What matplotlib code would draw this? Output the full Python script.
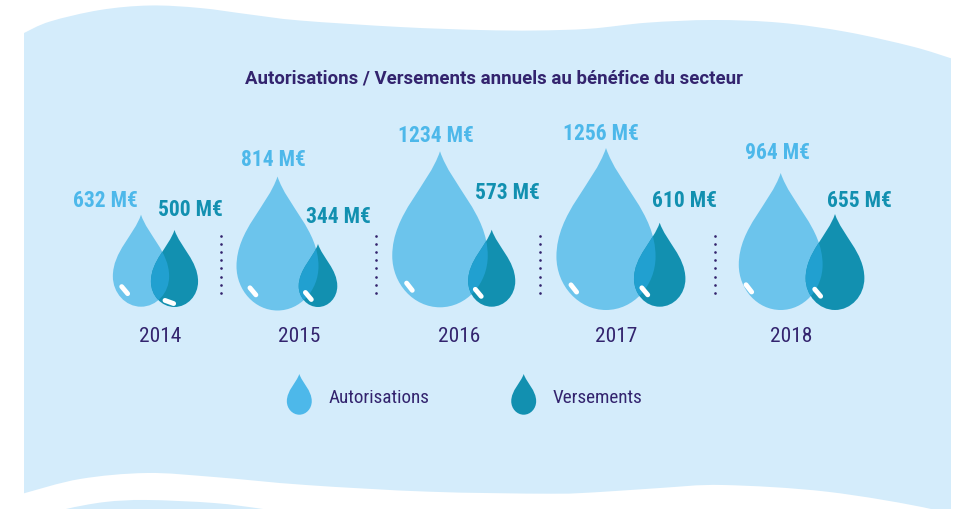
import numpy as np
import matplotlib
matplotlib.use('Agg')
import matplotlib.pyplot as plt
from matplotlib.path import Path
from matplotlib.patches import PathPatch

# ---- data ----
years = ['2014', '2015', '2016', '2017', '2018']
autorisations = [632, 814, 1234, 1256, 964]
versements = [500, 344, 573, 610, 655]
title = 'Autorisations / Versements annuels au bénéfice du secteur'
legend_labels = ['Autorisations', 'Versements']

# ---- layout (pixels) ----
W, H = 956, 509
K = 4.3
ASPECT = 0.612
light_adj = [0.851, 1.092, 1.033, 1.063, 1.026]
dark_adj = [0.801, 0.790, 0.748, 0.791, 0.872]
light_x = [141, 277.5, 440, 606, 780.7]
dark_x = [174.5, 318, 491.7, 659.7, 835]
light_base = [306.7, 310.5, 307.3, 310, 310]
dark_base = [307, 307, 306.7, 306.7, 310]
light_hl = [(-0.58, 0.18, -50), (-0.6, 0.143, -50), (-0.64, 0.132, -52), (-0.65, 0.133, -52), (-0.76, 0.158, -52)]
dark_hl = [(-0.22, 0.065, -20), (-0.5, 0.175, -50), (-0.57, 0.18, -50), (-0.58, 0.183, -50), (-0.59, 0.18, -50)]
light_lab = [(105, 201), (273.5, 160), (435.5, 136), (601, 134), (777.5, 153)]
dark_lab = [(190, 210), (338.5, 217), (507, 193), (685, 201), (859.5, 201)]
year_x = [160, 299, 459.5, 616, 791]
sep_x = [220.7, 376.3, 539.7, 715]

BG = '#D4ECFB'
LIGHT = '#6CC4EC'
LIGHT_TXT = '#4DB8EA'
DARK = '#1290B0'
OVER = '#21A0D0'
INK = '#33246E'

top_edge = [(24, 33), (50, 21.5), (100, 10), (150, 5.5), (200, 8), (250, 14.5), (300, 20.5), (400, 27), (480, 30),
            (535, 30.5), (590, 28.7), (647, 22.7), (713, 20), (780, 22.7), (847, 32), (913, 46.7), (951, 58.3)]
bottom_edge = [(24, 493.3), (80, 479), (147, 473), (214, 477), (306, 485), (429, 491.7), (551, 493.7), (600, 492),
               (660, 488), (723, 485), (827, 491.7), (931, 509), (951, 520)]
lower_band = [(50, 515), (66, 509), (105, 502), (147, 500), (214, 503), (263, 509), (300, 515)]


def smooth(pts):
    """Catmull-Rom edge as Bezier vertices (excluding the first point)."""
    p = np.array(pts, float)
    verts, codes = [], []
    for i in range(len(p) - 1):
        p0 = p[max(i - 1, 0)]
        p1, p2 = p[i], p[i + 1]
        p3 = p[min(i + 2, len(p) - 1)]
        verts += [tuple(p1 + (p2 - p0) / 6), tuple(p2 - (p3 - p1) / 6), tuple(p2)]
        codes += [Path.CURVE4] * 3
    return verts, codes


def wave_patch(top, bottom=None, close_y=None, color=BG):
    v1, c1 = smooth(top)
    verts = [tuple(top[0])] + v1
    codes = [Path.MOVETO] + c1
    if bottom is not None:
        v2, c2 = smooth(bottom[::-1])
        verts += [tuple(bottom[-1])] + v2
        codes += [Path.LINETO] + c2
    else:
        verts += [(top[-1][0], close_y), (top[0][0], close_y)]
        codes += [Path.LINETO, Path.LINETO]
    verts.append(verts[0])
    codes.append(Path.CLOSEPOLY)
    return PathPatch(Path(verts, codes), fc=color, ec='none', lw=0)


def drop_path(tip_x, base_y, height):
    hw = height * ASPECT / 2
    unit = [(0, 1), (0.24, 0.78), (1, 0.60), (1, 0.33), (1, 0.15), (0.552, 0), (0, 0),
            (-0.552, 0), (-1, 0.15), (-1, 0.33), (-1, 0.60), (-0.24, 0.78), (0, 1), (0, 1)]
    verts = [(tip_x + u * hw, base_y - v * height) for u, v in unit]
    codes = [Path.MOVETO] + [Path.CURVE4] * 12 + [Path.CLOSEPOLY]
    return Path(verts, codes)


def highlight(ax, tip_x, base_y, height, spec):
    u, v, ang = spec
    cx = tip_x + u * height * ASPECT / 2
    cy = base_y - v * height
    a = np.deg2rad(ang)
    dx, dy = 4.6 * np.cos(a), 4.6 * np.sin(a)
    ax.plot([cx - dx, cx + dx], [cy + dy, cy - dy], color='white', lw=3.5,
            solid_capstyle='round', zorder=6)


fig = plt.figure(figsize=(W / 100, H / 100), dpi=100, facecolor='white')
ax = fig.add_axes([0, 0, 1, 1])
ax.set_xlim(0, W)
ax.set_ylim(H, 0)
ax.axis('off')

ax.add_patch(wave_patch(top_edge, bottom_edge))
ax.add_patch(wave_patch(lower_band, close_y=515))

for i, year in enumerate(years):
    h_l = K * np.sqrt(autorisations[i]) * light_adj[i]
    h_d = K * np.sqrt(versements[i]) * dark_adj[i]
    p_l = drop_path(light_x[i], light_base[i], h_l)
    p_d = drop_path(dark_x[i], dark_base[i], h_d)
    ax.add_patch(PathPatch(p_l, fc=LIGHT, ec='none', zorder=3))
    dark_patch = PathPatch(p_d, fc=DARK, ec='none', zorder=4)
    ax.add_patch(dark_patch)
    over = PathPatch(p_l, fc=OVER, ec='none', zorder=5)
    ax.add_patch(over)
    over.set_clip_path(dark_patch)
    highlight(ax, light_x[i], light_base[i], h_l, light_hl[i])
    highlight(ax, dark_x[i], dark_base[i], h_d, dark_hl[i])

    ax.text(*light_lab[i], f'{autorisations[i]} M€', color=LIGHT_TXT, family='Roboto Condensed',
            weight='bold', fontsize=15.5, ha='center', va='center')
    ax.text(*dark_lab[i], f'{versements[i]} M€', color=DARK, family='Roboto Condensed',
            weight='bold', fontsize=15.5, ha='center', va='center')
    ax.text(year_x[i], 336.5, year, color=INK, family='Roboto Condensed', fontsize=15.4,
            ha='center', va='center')

for x in sep_x:
    ax.scatter([x] * 8, 236 + 8.1 * np.arange(8), s=3.6, color=INK, linewidths=0, zorder=3)

ax.text(494, 78.5, title, color=INK, family='Roboto', weight='bold', fontsize=13.4,
        ha='center', va='center')

# legend
for x, col, lab, tx in [(299.3, LIGHT_TXT, legend_labels[0], 329), (523.7, DARK, legend_labels[1], 553)]:
    ax.add_patch(PathPatch(drop_path(x, 414.7, 40.7), fc=col, ec='none', zorder=3))
    ax.text(tx, 398, lab, color=INK, family='Roboto Condensed', fontsize=13.8, ha='left', va='center')

fig.savefig('out.png', dpi=100, facecolor='white')
